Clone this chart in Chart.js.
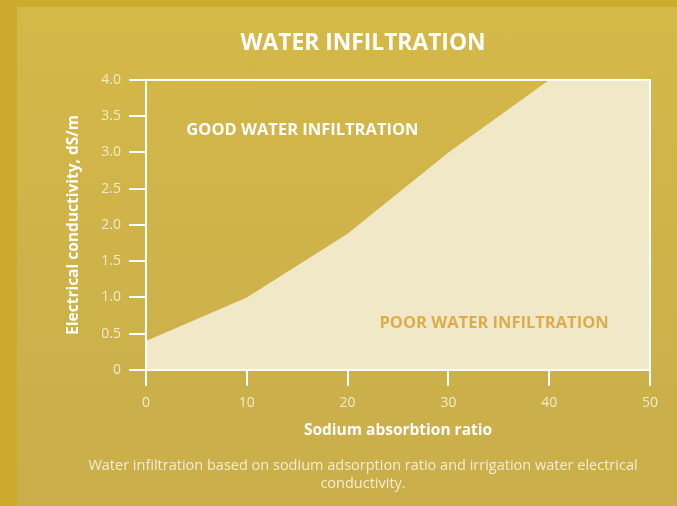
<!DOCTYPE html>
<html>
<head>
<meta charset="utf-8">
<script src="https://cdn.jsdelivr.net/npm/chart.js@4/dist/chart.umd.min.js"></script>
<style>
    html, body { margin: 0; padding: 0; }
    body {
        width: 677px;
        height: 506px;
        background: #CCAB2C;
        position: relative;
        overflow: hidden;
    }
    .panel {
        position: absolute;
        left: 17px;
        top: 7px;
        right: 0;
        bottom: 0;
        background: linear-gradient(#D4B848, #C9AE4B);
    }
    canvas { position: absolute; left: 0; top: 0; }
</style>
</head>
<body>
<div class="panel"></div>
<canvas id="infiltrationChart" width="677" height="506"></canvas>
<script>
// Water infiltration - SAR vs EC threshold

// Threshold line
const sarValues = [0, 10, 20, 30, 40, 50];
const ecValues = [0.4, 1.0, 1.88, 3.0, 4.0, 4.0];

const xTicks = [0, 10, 20, 30, 40, 50];
const yTickLabels = ['0', '0.5', '1.0', '1.5', '2.0', '2.5', '3.0', '3.5', '4.0'];

const zoneLabels = ['GOOD WATER INFILTRATION', 'POOR WATER INFILTRATION'];

const cream = '#F1E8C8';
const tickColor = '#F3EBCB';
const fontFamily = '"Open Sans", Lato, sans-serif';

// Frame on top/right of plot + zone labels
const plotFrame = {
    id: 'plotFrame',
    afterDatasetsDraw(chart) {
        const { ctx, chartArea, scales } = chart;
        ctx.save();
        ctx.strokeStyle = '#FFFFFF';
        ctx.lineWidth = 2;
        ctx.strokeRect(chartArea.left, chartArea.top, chartArea.right - chartArea.left, chartArea.bottom - chartArea.top);

        ctx.font = 'bold 16.5px ' + fontFamily;
        ctx.textBaseline = 'middle';

        ctx.fillStyle = '#FFFFFF';
        ctx.textAlign = 'left';
        ctx.fillText(zoneLabels[0], scales.x.getPixelForValue(4), scales.y.getPixelForValue(3.31));

        ctx.fillStyle = '#DDAD4B';
        ctx.textAlign = 'right';
        ctx.fillText(zoneLabels[1], scales.x.getPixelForValue(45.9), scales.y.getPixelForValue(0.65));
        ctx.restore();
    }
};

const ctx = document.getElementById('infiltrationChart');

new Chart(ctx, {
    type: 'line',
    data: {
        datasets: [{
            label: 'Threshold',
            data: sarValues.map((x, i) => ({ x: x, y: ecValues[i] })),
            borderWidth: 0,
            borderColor: cream,
            backgroundColor: cream,
            fill: 'origin',
            pointRadius: 0,
            tension: 0
        }]
    },
    options: {
        responsive: false,
        animation: false,
        layout: {
            padding: { left: 76, right: 27, top: 0, bottom: 0 }
        },
        plugins: {
            legend: { display: false },
            tooltip: { enabled: false },
            title: {
                display: true,
                text: 'WATER INFILTRATION',
                color: '#FFFFFF',
                font: { family: fontFamily, size: 22.8, weight: 'bold', lineHeight: 1.2 },
                padding: { top: 30, bottom: 22.6 }
            },
            subtitle: {
                display: true,
                position: 'bottom',
                text: [
                    'Water infiltration based on sodium adsorption ratio and irrigation water electrical',
                    'conductivity.'
                ],
                color: '#F4EDD3',
                font: { family: fontFamily, size: 14.5, lineHeight: 1.241 },
                padding: { top: 5, bottom: 13 }
            }
        },
        scales: {
            x: {
                type: 'linear',
                min: 0,
                max: 50,
                afterFit(scale) { scale.height = 82; },
                afterBuildTicks(scale) { scale.ticks = xTicks.map(v => ({ value: v })); },
                ticks: {
                    color: tickColor,
                    padding: 9,
                    font: { family: fontFamily, size: 14 }
                },
                grid: {
                    display: true,
                    drawOnChartArea: false,
                    drawTicks: true,
                    tickLength: 16,
                    color: '#FFFFFF',
                    lineWidth: 2
                },
                border: { display: true, color: '#FFFFFF', width: 2 },
                title: {
                    display: true,
                    text: 'Sodium absorbtion ratio',
                    color: '#FFFFFF',
                    font: { family: fontFamily, size: 15.5, weight: 'bold', lineHeight: 1.2 },
                    padding: { top: 0, bottom: 12 }
                }
            },
            y: {
                type: 'linear',
                min: 0,
                max: 4,
                afterFit(scale) { scale.width = 70; },
                ticks: {
                    stepSize: 0.5,
                    color: tickColor,
                    padding: 8,
                    font: { family: fontFamily, size: 14 },
                    callback: (value, index) => yTickLabels[index]
                },
                grid: {
                    display: true,
                    drawOnChartArea: false,
                    drawTicks: true,
                    tickLength: 17,
                    color: '#FFFFFF',
                    lineWidth: 2
                },
                border: { display: true, color: '#FFFFFF', width: 2 },
                title: {
                    display: true,
                    text: 'Electrical conductivity, dS/m',
                    color: '#FFFFFF',
                    font: { family: fontFamily, size: 15.5, weight: 'bold', lineHeight: 1.2 },
                    padding: { top: -12, bottom: 0 }
                }
            }
        }
    },
    plugins: [plotFrame]
});
</script>
</body>
</html>
